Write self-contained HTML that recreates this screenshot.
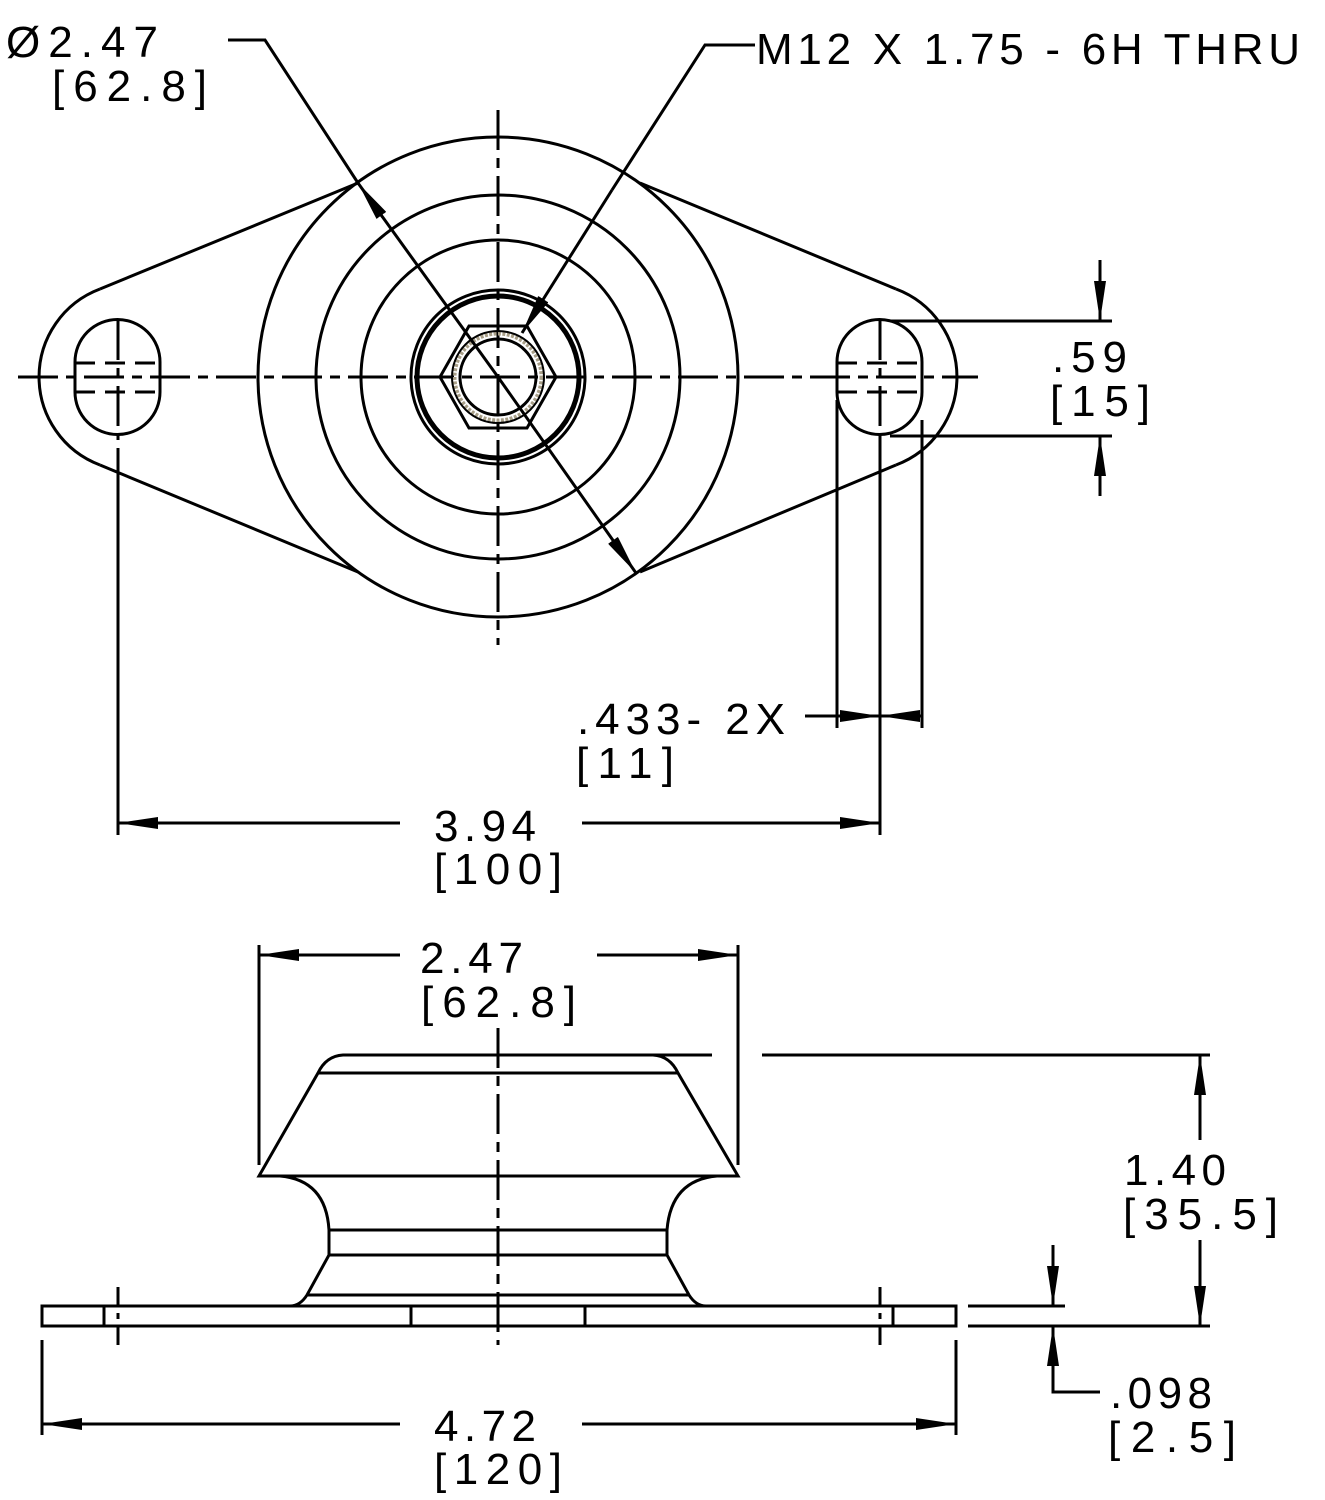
<!DOCTYPE html>
<html><head><meta charset="utf-8"><style>
html,body{margin:0;padding:0;background:#fff;}
svg{display:block;}
text{font-family:"Liberation Sans",sans-serif;font-size:44px;fill:#000;}
</style></head><body>
<svg width="1325" height="1500" viewBox="0 0 1325 1500" xmlns="http://www.w3.org/2000/svg">
<defs>
<marker id="a" viewBox="0 0 40 12" refX="40" refY="6" markerWidth="40" markerHeight="12" markerUnits="userSpaceOnUse" orient="auto"><path d="M0,0 L40,6 L0,12 Z" fill="#000"/></marker>
</defs>
<g fill="none" stroke="#000" stroke-width="3">
<g stroke-dasharray="40,8,10,8">
<line x1="18" y1="377" x2="978" y2="377"/>
<line x1="498" y1="110" x2="498" y2="645"/>
<line x1="118" y1="320" x2="118" y2="440"/>
<line x1="880" y1="320" x2="880" y2="440"/>
</g>
<path d="M100,289 L358,183 M100,465 L358,572 M640,183 L896,289 M640,572 L896,465"/>
<path d="M100,289 A94,94 0 0 0 100,465"/>
<path d="M896,289 A94,94 0 0 1 896,465"/>
<circle cx="498" cy="377" r="240"/>
<circle cx="498" cy="377" r="182"/>
<circle cx="498" cy="377" r="137"/>
<circle cx="498" cy="377" r="87"/>
<circle cx="498" cy="377" r="81" stroke-width="5"/>
<polygon points="440,377 469,326 527,326 556,377 527,428 469,428"/>
<circle cx="498" cy="377" r="44" stroke="#a89f88" stroke-width="5" stroke-dasharray="3,1.5"/>
<circle cx="498" cy="377" r="46" stroke-width="2"/>
<circle cx="498" cy="377" r="38"/>
<path d="M75,362 A42.5,42.5 0 0 1 160,362 L160,392 A42.5,42.5 0 0 1 75,392 Z"/>
<path d="M837,362 A42.5,42.5 0 0 1 922,362 L922,392 A42.5,42.5 0 0 1 837,392 Z"/>
<g stroke-dasharray="20,10">
<line x1="75" y1="363" x2="160" y2="363"/><line x1="75" y1="392" x2="160" y2="392"/>
<line x1="837" y1="363" x2="922" y2="363"/><line x1="837" y1="392" x2="922" y2="392"/>
</g>
<path d="M228,40 L265,40 L358,183"/>
<line x1="498" y1="377" x2="358" y2="183" marker-end="url(#a)"/>
<line x1="498" y1="377" x2="636" y2="573" marker-end="url(#a)"/>
<path d="M755,45 L705,45 L612,190"/>
<line x1="612" y1="190" x2="522" y2="333" marker-end="url(#a)"/>
<line x1="890" y1="321" x2="1112" y2="321"/>
<line x1="890" y1="436" x2="1112" y2="436"/>
<line x1="1100" y1="260" x2="1100" y2="321" marker-end="url(#a)"/>
<line x1="1100" y1="496" x2="1100" y2="436" marker-end="url(#a)"/>
<line x1="118" y1="448" x2="118" y2="835"/>
<line x1="880" y1="440" x2="880" y2="835"/>
<line x1="837" y1="400" x2="837" y2="728"/>
<line x1="922" y1="420" x2="922" y2="728"/>
<line x1="805" y1="716" x2="880" y2="716" marker-end="url(#a)"/>
<line x1="922" y1="716" x2="880" y2="716" marker-end="url(#a)"/>
<line x1="400" y1="823" x2="118" y2="823" marker-end="url(#a)"/>
<line x1="582" y1="823" x2="880" y2="823" marker-end="url(#a)"/>

<line x1="498" y1="1028" x2="498" y2="1345" stroke-dasharray="40,8,10,8"/>
<line x1="118" y1="1287" x2="118" y2="1345" stroke-dasharray="20,6,6,6"/>
<line x1="880" y1="1287" x2="880" y2="1345" stroke-dasharray="20,6,6,6"/>
<rect x="42" y="1306" width="914" height="20"/>
<path d="M104,1306 V1326 M893,1306 V1326 M411,1306 V1326 M585,1306 V1326"/>
<path d="M343,1055 L653,1055 Q670,1056 678,1073 L738,1176 L259,1176 L318,1073 Q326,1056 343,1055 Z"/>
<line x1="318" y1="1073" x2="678" y2="1073"/>
<path d="M280,1176 Q326,1180 329,1230 L329,1255 L307,1295 Q300,1306 290,1306"/>
<path d="M717,1176 Q671,1180 667,1230 L667,1255 L689,1295 Q696,1306 706,1306"/>
<path d="M329,1230 H667 M329,1255 H667 M307,1295 H689"/>
<line x1="259" y1="945" x2="259" y2="1165"/>
<line x1="738" y1="945" x2="738" y2="1165"/>
<line x1="400" y1="955" x2="259" y2="955" marker-end="url(#a)"/>
<line x1="597" y1="955" x2="738" y2="955" marker-end="url(#a)"/>
<path d="M653,1055 H712 M762,1055 H1210 M968,1326 H1210 M968,1306 H1065"/>
<line x1="1200" y1="1140" x2="1200" y2="1055" marker-end="url(#a)"/>
<line x1="1200" y1="1240" x2="1200" y2="1326" marker-end="url(#a)"/>
<line x1="1053" y1="1245" x2="1053" y2="1306" marker-end="url(#a)"/>
<path d="M1100,1392 H1053 V1370"/>
<line x1="1053" y1="1392" x2="1053" y2="1326" marker-end="url(#a)"/>
<line x1="42" y1="1340" x2="42" y2="1435"/>
<line x1="956" y1="1340" x2="956" y2="1435"/>
<line x1="400" y1="1424" x2="42" y2="1424" marker-end="url(#a)"/>
<line x1="582" y1="1424" x2="956" y2="1424" marker-end="url(#a)"/>
</g>
<line x1="880" y1="716" x2="922" y2="716" stroke="#000" stroke-width="3"/>
<text x="6" y="57" textLength="152" lengthAdjust="spacing">Ø2.47</text>
<text x="52" y="101" textLength="155" lengthAdjust="spacing">[62.8]</text>
<text x="756" y="64" textLength="544" lengthAdjust="spacing">M12 X 1.75 - 6H THRU</text>
<text x="1052" y="372" textLength="75" lengthAdjust="spacing">.59</text>
<text x="1050" y="416" textLength="100" lengthAdjust="spacing">[15]</text>
<text x="577" y="734" textLength="208" lengthAdjust="spacing">.433- 2X</text>
<text x="576" y="778" textLength="98" lengthAdjust="spacing">[11]</text>
<text x="434" y="841" textLength="102" lengthAdjust="spacing">3.94</text>
<text x="434" y="884" textLength="128" lengthAdjust="spacing">[100]</text>
<text x="420" y="973" textLength="103" lengthAdjust="spacing">2.47</text>
<text x="421" y="1017" textLength="155" lengthAdjust="spacing">[62.8]</text>
<text x="1124" y="1185" textLength="102" lengthAdjust="spacing">1.40</text>
<text x="1123" y="1229" textLength="155" lengthAdjust="spacing">[35.5]</text>
<text x="1110" y="1408" textLength="102" lengthAdjust="spacing">.098</text>
<text x="1108" y="1452" textLength="128" lengthAdjust="spacing">[2.5]</text>
<text x="434" y="1441" textLength="102" lengthAdjust="spacing">4.72</text>
<text x="434" y="1484" textLength="128" lengthAdjust="spacing">[120]</text>
</svg>
</body></html>
